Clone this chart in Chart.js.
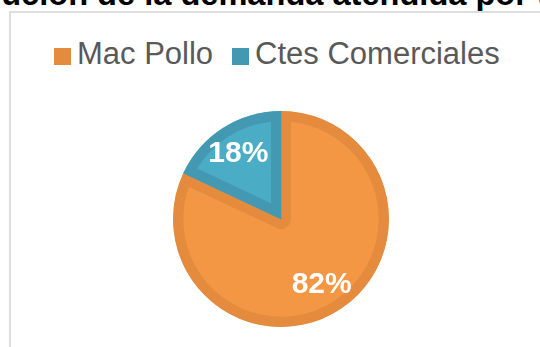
<!DOCTYPE html>
<html>
<head>
<meta charset="utf-8">
<script src="https://cdn.jsdelivr.net/npm/chart.js@4/dist/chart.umd.min.js"></script>
<style>
  html, body { margin: 0; padding: 0; background: #fff; width: 540px; height: 347px; overflow: hidden; }
  #wrap { position: relative; width: 540px; height: 347px; overflow: hidden; font-family: "Liberation Sans", Arial, sans-serif; }
  #title { position: absolute; left: -102px; top: -22px; white-space: nowrap; font-weight: bold; font-size: 32.6px; line-height: 32px; color: #000; }
  #frame { position: absolute; left: 9px; top: 11px; width: 600px; height: 400px; border: 2px solid #dedede; box-sizing: border-box; }
  #legend { position: absolute; left: 54px; top: 38px; white-space: nowrap; font-size: 31px; line-height: 31px; color: #595959; }
  .item { display: inline-block; }
  .sw { display: inline-block; width: 17px; height: 17px; margin-right: 6px; vertical-align: -1px; }
  canvas { position: absolute; left: 0; top: 0; }
</style>
</head>
<body>
<div id="wrap">
  <div id="title"></div>
  <div id="frame"></div>
  <div id="legend"></div>
  <canvas id="c" width="540" height="347"></canvas>
</div>
<script>
const titleText = "Distribución de la demanda atendida por tipo de cliente";
const categories = ["Mac Pollo", "Ctes Comerciales"];
const values = [82, 18];
const fillColors = ["#F39745", "#4BACC6"];
const borderColors = ["#E48B3E", "#4399B2"];

document.getElementById('title').textContent = titleText;

const legend = document.getElementById('legend');
categories.forEach((name, i) => {
  const item = document.createElement('span');
  item.className = 'item';
  if (i > 0) item.style.marginLeft = '19px';
  const sw = document.createElement('span');
  sw.className = 'sw';
  sw.style.background = borderColors[i];
  item.appendChild(sw);
  item.appendChild(document.createTextNode(name));
  legend.appendChild(item);
});

const pctLabels = {
  id: 'pctLabels',
  afterDatasetsDraw(chart) {
    const ctx = chart.ctx;
    const meta = chart.getDatasetMeta(0);
    const data = chart.data.datasets[0].data;
    const total = data.reduce((a, b) => a + b, 0);
    ctx.save();
    ctx.fillStyle = '#ffffff';
    ctx.font = 'bold 30px "Liberation Sans", Arial, sans-serif';
    ctx.textAlign = 'center';
    ctx.textBaseline = 'middle';
    meta.data.forEach((arc, i) => {
      const p = arc.getProps(['x', 'y', 'startAngle', 'endAngle', 'outerRadius'], true);
      const mid = (p.startAngle + p.endAngle) / 2;
      const r = p.outerRadius * 0.72;
      const x = p.x + Math.cos(mid) * r;
      const y = p.y + Math.sin(mid) * r;
      ctx.fillText(Math.round(data[i] / total * 100) + '%', x - 1, y);
    });
    ctx.restore();
  }
};

new Chart(document.getElementById('c'), {
  type: 'pie',
  data: {
    labels: categories,
    datasets: [{
      data: values,
      backgroundColor: fillColors,
      borderColor: borderColors,
      borderWidth: 10,
      hoverBorderWidth: 10,
      borderAlign: 'inner'
    }]
  },
  options: {
    responsive: false,
    animation: false,
    radius: 108,
    layout: { padding: { top: 100, bottom: 9, left: 30, right: 8 } },
    plugins: { legend: { display: false }, tooltip: { enabled: false }, title: { display: false } },
    events: []
  },
  plugins: [pctLabels]
});
</script>
</body>
</html>
